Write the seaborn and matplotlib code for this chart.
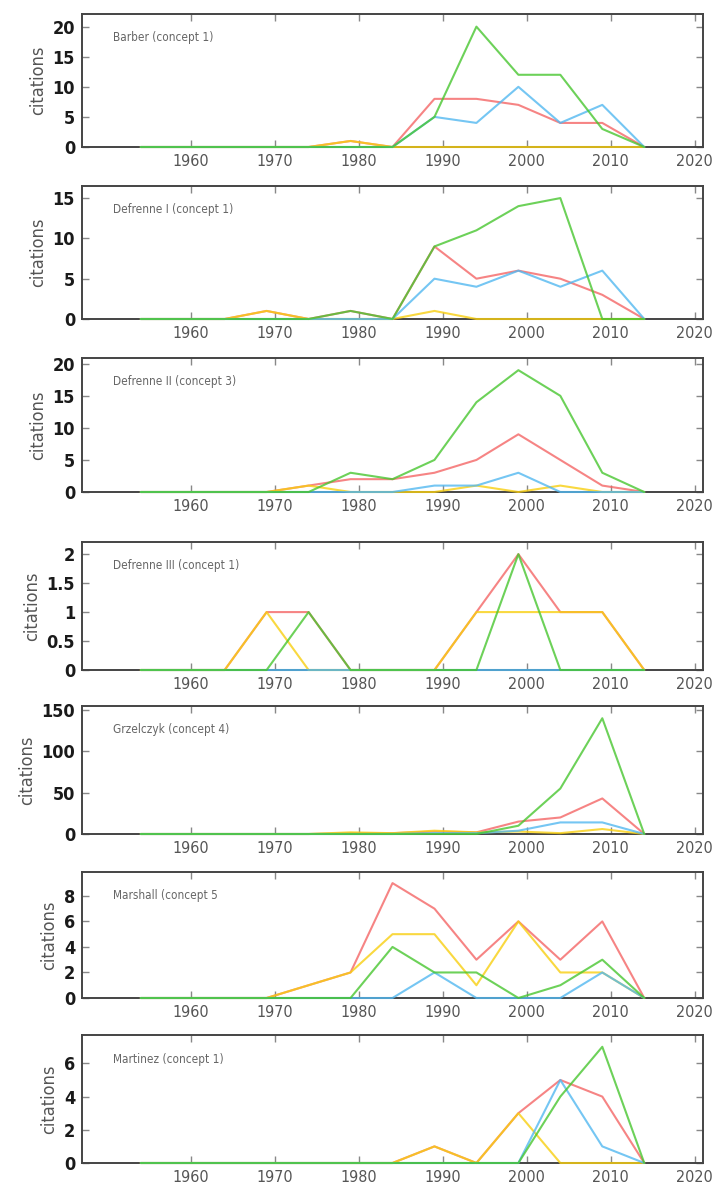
import matplotlib
matplotlib.use("Agg")
import matplotlib.pyplot as plt
import seaborn as sns
import pandas as pd

years = [1954, 1959, 1964, 1969, 1974, 1979, 1984, 1989, 1994, 1999, 2004, 2009, 2014]
series_names = ["A", "B", "C", "D"]
draw_order = ["A", "D", "B", "C"]
palette = {"A": "#f46666", "B": "#52b8f0", "C": "#48c630", "D": "#f8cf10"}

titles = ["Barber (concept 1)", "Defrenne I (concept 1)", "Defrenne II (concept 3)",
          "Defrenne III (concept 1)", "Grzelczyk (concept 4)", "Marshall (concept 5",
          "Martinez (concept 1)"]

barber_a = [0, 0, 0, 0, 0, 1, 0, 8, 8, 7, 4, 4, 0]
barber_b = [0, 0, 0, 0, 0, 0, 0, 5, 4, 10, 4, 7, 0]
barber_c = [0, 0, 0, 0, 0, 0, 0, 5, 20, 12, 12, 3, 0]
barber_d = [0, 0, 0, 0, 0, 1, 0, 0, 0, 0, 0, 0, 0]

defrenne1_a = [0, 0, 0, 1, 0, 1, 0, 9, 5, 6, 5, 3, 0]
defrenne1_b = [0, 0, 0, 0, 0, 0, 0, 5, 4, 6, 4, 6, 0]
defrenne1_c = [0, 0, 0, 0, 0, 1, 0, 9, 11, 14, 15, 0, 0]
defrenne1_d = [0, 0, 0, 1, 0, 0, 0, 1, 0, 0, 0, 0, 0]

defrenne2_a = [0, 0, 0, 0, 1, 2, 2, 3, 5, 9, 5, 1, 0]
defrenne2_b = [0, 0, 0, 0, 0, 0, 0, 1, 1, 3, 0, 0, 0]
defrenne2_c = [0, 0, 0, 0, 0, 3, 2, 5, 14, 19, 15, 3, 0]
defrenne2_d = [0, 0, 0, 0, 1, 0, 0, 0, 1, 0, 1, 0, 0]

defrenne3_a = [0, 0, 0, 1, 1, 0, 0, 0, 1, 2, 1, 1, 0]
defrenne3_b = [0, 0, 0, 0, 0, 0, 0, 0, 0, 0, 0, 0, 0]
defrenne3_c = [0, 0, 0, 0, 1, 0, 0, 0, 0, 2, 0, 0, 0]
defrenne3_d = [0, 0, 0, 1, 0, 0, 0, 0, 1, 1, 1, 1, 0]

grzelczyk_a = [0, 0, 0, 0, 0, 1, 1, 3, 2, 15, 20, 43, 0]
grzelczyk_b = [0, 0, 0, 0, 0, 0, 0, 1, 1, 4, 14, 14, 0]
grzelczyk_c = [0, 0, 0, 0, 0, 0, 0, 0, 0, 10, 55, 140, 0]
grzelczyk_d = [0, 0, 0, 0, 0, 2, 1, 4, 2, 3, 1, 6, 0]

marshall_a = [0, 0, 0, 0, 1, 2, 9, 7, 3, 6, 3, 6, 0]
marshall_b = [0, 0, 0, 0, 0, 0, 0, 2, 0, 0, 0, 2, 0]
marshall_c = [0, 0, 0, 0, 0, 0, 4, 2, 2, 0, 1, 3, 0]
marshall_d = [0, 0, 0, 0, 1, 2, 5, 5, 1, 6, 2, 2, 0]

martinez_a = [0, 0, 0, 0, 0, 0, 0, 1, 0, 3, 5, 4, 0]
martinez_b = [0, 0, 0, 0, 0, 0, 0, 0, 0, 0, 5, 1, 0]
martinez_c = [0, 0, 0, 0, 0, 0, 0, 0, 0, 0, 4, 7, 0]
martinez_d = [0, 0, 0, 0, 0, 0, 0, 1, 0, 3, 0, 0, 0]

panels = [
    (barber_a, barber_b, barber_c, barber_d),
    (defrenne1_a, defrenne1_b, defrenne1_c, defrenne1_d),
    (defrenne2_a, defrenne2_b, defrenne2_c, defrenne2_d),
    (defrenne3_a, defrenne3_b, defrenne3_c, defrenne3_d),
    (grzelczyk_a, grzelczyk_b, grzelczyk_c, grzelczyk_d),
    (marshall_a, marshall_b, marshall_c, marshall_d),
    (martinez_a, martinez_b, martinez_c, martinez_d),
]

yticks = [[0, 5, 10, 15, 20], [0, 5, 10, 15], [0, 5, 10, 15, 20],
          [0, 0.5, 1, 1.5, 2], [0, 50, 100, 150], [0, 2, 4, 6, 8], [0, 2, 4, 6]]
ytick_labels = [["0", "5", "10", "15", "20"], ["0", "5", "10", "15"],
                ["0", "5", "10", "15", "20"], ["0", "0.5", "1", "1.5", "2"],
                ["0", "50", "100", "150"], ["0", "2", "4", "6", "8"], ["0", "2", "4", "6"]]
ytops = [22.1, 16.5, 20.9, 2.21, 154.8, 9.87, 7.71]
xticks = [1960, 1970, 1980, 1990, 2000, 2010, 2020]

sns.set_theme(style="white")
plt.rcParams['font.family'] = ['DejaVu Sans']
plt.rcParams['font.stretch'] = 'condensed'

W, H = 720, 1187
fig = plt.figure(figsize=(W / 100, H / 100), dpi=100)
boxes = [(14, 147), (186, 319), (358, 492), (542, 670), (706, 834), (872, 998), (1035, 1163)]
left, right = 82, 703

for i, (vals, (top, bot)) in enumerate(zip(panels, boxes)):
    ax = fig.add_axes([left / W, 1 - bot / H, (right - left) / W, (bot - top) / H])
    rows = []
    for name, v in zip(series_names, vals):
        for y, c in zip(years, v):
            rows.append({"year": y, "citations": c, "series": name})
    df = pd.DataFrame(rows)
    sns.lineplot(data=df, x="year", y="citations", hue="series", palette=palette,
                 hue_order=draw_order, ax=ax, legend=False, linewidth=1.5, alpha=0.8,
                 errorbar=None)
    for ln in ax.lines:
        ln.set_clip_on(False)
        ln.set_zorder(3)
    ax.set_xlim(1947, 2021)
    ax.set_ylim(0, ytops[i])
    ax.set_xticks(xticks)
    ax.set_xticklabels([str(x) for x in xticks], fontsize=11.5, color="#555555",
                       fontstretch="condensed")
    ax.set_yticks(yticks[i])
    ax.set_yticklabels(ytick_labels[i], fontsize=13, color="#1a1a1a", fontweight="bold",
                       fontstretch="condensed")
    ax.tick_params(axis="both", direction="in", length=5, width=1, color="#888888",
                   top=True, right=True, bottom=True, left=True, pad=5)
    ax.set_xlabel("")
    ax.set_ylabel("citations", fontsize=13, color="#555555", labelpad=4,
                  fontstretch="condensed")
    for s in ax.spines.values():
        s.set_color("#444444")
        s.set_linewidth(1.4)
    ax.text(0.05, 1 - 24 / (bot - top), titles[i], transform=ax.transAxes, fontsize=8.5,
            color="#666666", ha="left", va="center", fontstretch="condensed")
    ax.grid(False)

fig.savefig("out.png", dpi=100)
